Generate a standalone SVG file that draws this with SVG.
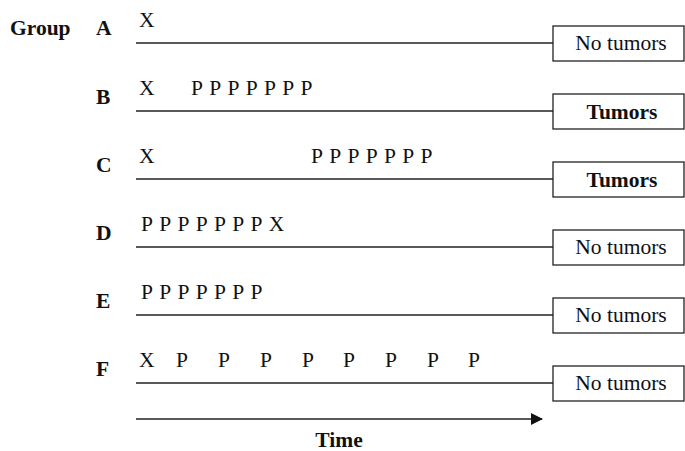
<svg xmlns="http://www.w3.org/2000/svg" width="685" height="451" viewBox="0 0 685 451">
  <style>
    text { font-family: 'Liberation Serif', 'DejaVu Serif', serif; font-size: 21.5px; fill: #111; }
    .b { font-weight: bold; }
    .mid { text-anchor: middle; }
    .seq { letter-spacing: 0.85px; }
    .tl { stroke: #222; stroke-width: 1.5; fill: none; }
    .box { fill: #fff; stroke: #222; stroke-width: 1.3; }
  </style>
  <defs>
    <marker id="arrow" viewBox="0 0 12 12" refX="11" refY="6" markerWidth="12" markerHeight="12" markerUnits="userSpaceOnUse" orient="auto">
      <path d="M0,0 L12,6 L0,12 Z" fill="#111"/>
    </marker>
  </defs>

  <g font-family="Liberation Serif, DejaVu Serif, serif">
  <text class="b" x="10" y="35">Group</text>

  <!-- timelines and time axis -->
  <g id="connectors">
    <line class="tl" x1="136" y1="43" x2="553" y2="43"/>
    <line class="tl" x1="136" y1="111" x2="553" y2="111"/>
    <line class="tl" x1="136" y1="179" x2="553" y2="179"/>
    <line class="tl" x1="136" y1="247" x2="553" y2="247"/>
    <line class="tl" x1="136" y1="315" x2="553" y2="315"/>
    <line class="tl" x1="136" y1="383" x2="553" y2="383"/>
    <line class="tl" x1="136" y1="419" x2="542" y2="419" marker-end="url(#arrow)"/>
  </g>

  <g id="group-a">
    <text class="b" x="96" y="35">A</text>
    <text x="139" y="27">X</text>
    <rect class="box" x="553" y="26" width="131" height="35"/>
    <text class="mid" x="621" y="50">No tumors</text>
  </g>

  <g id="group-b">
    <text class="b" x="96" y="104">B</text>
    <text x="139" y="95">X</text>
    <text class="seq" x="191" y="95">P P P P P P P</text>
    <rect class="box" x="553" y="94" width="131" height="35"/>
    <text class="mid b" x="622" y="119">Tumors</text>
  </g>

  <g id="group-c">
    <text class="b" x="96" y="172">C</text>
    <text x="139" y="163">X</text>
    <text class="seq" x="311" y="163">P P P P P P P</text>
    <rect class="box" x="553" y="162" width="131" height="35"/>
    <text class="mid b" x="622" y="187">Tumors</text>
  </g>

  <g id="group-d">
    <text class="b" x="96" y="240">D</text>
    <text class="seq" x="141" y="231">P P P P P P P X</text>
    <rect class="box" x="553" y="230" width="131" height="35"/>
    <text class="mid" x="621" y="254">No tumors</text>
  </g>

  <g id="group-e">
    <text class="b" x="96" y="308">E</text>
    <text class="seq" x="141" y="299">P P P P P P P</text>
    <rect class="box" x="553" y="298" width="131" height="35"/>
    <text class="mid" x="621" y="322">No tumors</text>
  </g>

  <g id="group-f">
    <text class="b" x="96" y="376">F</text>
    <text x="139" y="367">X</text>
    <text x="176" y="367">P</text>
    <text x="218" y="367">P</text>
    <text x="260" y="367">P</text>
    <text x="302" y="367">P</text>
    <text x="343" y="367">P</text>
    <text x="385" y="367">P</text>
    <text x="427" y="367">P</text>
    <text x="468" y="367">P</text>
    <rect class="box" x="553" y="366" width="131" height="35"/>
    <text class="mid" x="621" y="390">No tumors</text>
  </g>

  <text class="b mid" x="339" y="447">Time</text>
  </g>
</svg>
